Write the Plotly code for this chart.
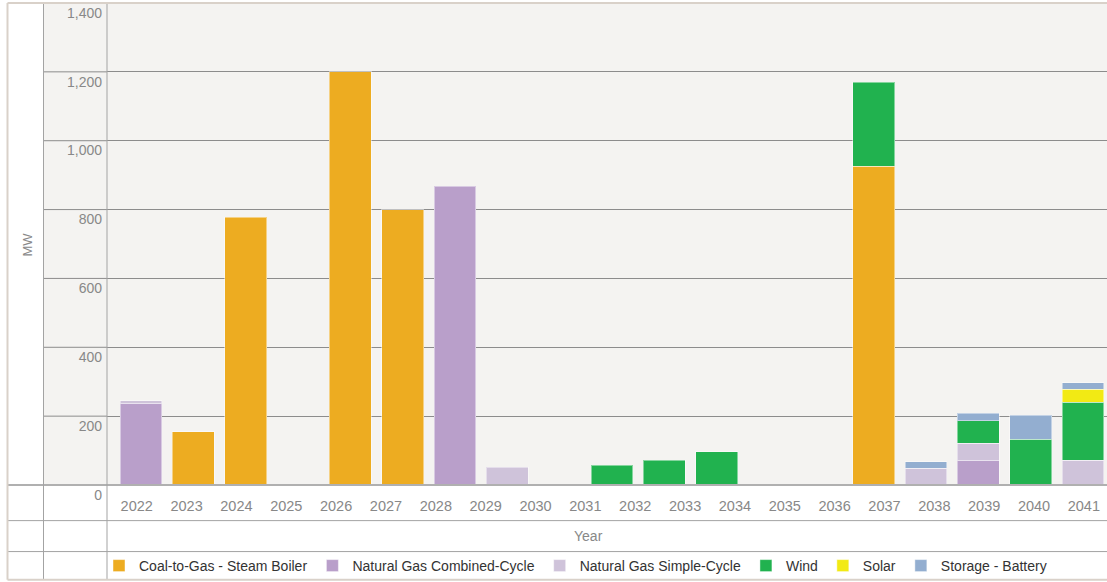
import plotly.graph_objects as go

# Axis labels along the year row
years = list(range(2022, 2042))

# Years that carry a bar column
bar_years = [2022, 2023, 2024, 2025, 2026, 2027, 2028, 2029, 2030,
             2032, 2033, 2034, 2035, 2036, 2037, 2038, 2039, 2040, 2041]

# Capacity additions, MW
coal_to_gas = [0, 154, 778, 0, 1200, 800, 0, 0, 0, 0, 0, 0, 0, 0, 926, 0, 0, 0, 0]
ng_combined = [237, 0, 0, 0, 0, 0, 868, 0, 0, 0, 0, 0, 0, 0, 0, 0, 72, 0, 0]
ng_simple = [7, 0, 0, 0, 0, 0, 0, 52, 0, 0, 0, 0, 0, 0, 0, 48, 50, 0, 72]
wind = [0, 0, 0, 0, 0, 0, 0, 0, 0, 58, 72, 96, 0, 0, 244, 0, 64, 133, 168]
solar = [0, 0, 0, 0, 0, 0, 0, 0, 0, 0, 0, 0, 0, 0, 0, 0, 0, 0, 38]
storage = [0, 0, 0, 0, 0, 0, 0, 0, 0, 0, 0, 0, 0, 0, 0, 19, 22, 70, 19]

y_ticks = [0, 200, 400, 600, 800, 1000, 1200, 1400]
Y_MAX = 1400

series = [
    ("Coal-to-Gas - Steam Boiler", coal_to_gas, "#EDAC21"),
    ("Natural Gas Combined-Cycle", ng_combined, "#B99FCA"),
    ("Natural Gas Simple-Cycle", ng_simple, "#CFC3DA"),
    ("Wind", wind, "#21B24F"),
    ("Solar", solar, "#F2EA14"),
    ("Storage - Battery", storage, "#93AED0"),
]

FONT = "Arial, Liberation Sans, Helvetica, sans-serif"
GRID = "#8C8C8C"
RULE = "#A3A3A3"
FRAME = "#D9D1C9"
BG = "#F4F3F1"

fig = go.Figure()
for name, vals, color in series:
    fig.add_trace(go.Bar(
        x=[str(y) for y in bar_years],
        y=[v if v else None for v in vals],
        name=name,
        marker=dict(color=color, line=dict(color="rgba(255,255,255,0.45)", width=1)),
        xaxis="x", yaxis="y",
    ))

# carrier for the year label axis
fig.add_trace(go.Scatter(
    x=years, y=[0] * len(years), mode="markers",
    marker=dict(opacity=0), showlegend=False, hoverinfo="skip",
    xaxis="x2", yaxis="y",
))

# table-like frame around the plot
XL_COL = -0.0635   # left edge of the tick-label column
XL_OUT = -0.0995   # outer frame edge
Y_ROW1 = -0.0739
Y_ROW2 = -0.1381
Y_BOT = -0.1967

shapes = [
    dict(type="rect", xref="paper", yref="paper", x0=XL_COL, x1=0, y0=0, y1=1,
         fillcolor=BG, line=dict(width=0), layer="below"),
]
for v in y_ticks[1:-1]:
    shapes.append(dict(type="line", xref="paper", yref="paper", x0=XL_COL, x1=0,
                       y0=v / Y_MAX, y1=v / Y_MAX, line=dict(color=GRID, width=1)))
shapes += [
    dict(type="line", xref="paper", yref="paper", x0=XL_OUT, x1=1, y0=0, y1=0,
         line=dict(color="#B0B0B0", width=2)),
    dict(type="line", xref="paper", yref="paper", x0=XL_OUT, x1=1, y0=Y_ROW1, y1=Y_ROW1,
         line=dict(color=RULE, width=1)),
    dict(type="line", xref="paper", yref="paper", x0=XL_OUT, x1=1, y0=Y_ROW2, y1=Y_ROW2,
         line=dict(color=RULE, width=1)),
    dict(type="line", xref="paper", yref="paper", x0=XL_COL, x1=XL_COL, y0=Y_BOT, y1=1,
         line=dict(color=RULE, width=1)),
    dict(type="line", xref="paper", yref="paper", x0=0, x1=0, y0=Y_BOT, y1=1,
         line=dict(color=RULE, width=1)),
    dict(type="line", xref="paper", yref="paper", x0=XL_OUT, x1=XL_OUT, y0=Y_BOT, y1=1,
         line=dict(color=FRAME, width=2)),
    dict(type="line", xref="paper", yref="paper", x0=XL_OUT, x1=1, y0=1, y1=1,
         line=dict(color=FRAME, width=2)),
    dict(type="line", xref="paper", yref="paper", x0=XL_OUT, x1=1, y0=Y_BOT, y1=Y_BOT,
         line=dict(color=FRAME, width=2)),
]

fig.update_layout(
    width=1107, height=582,
    margin=dict(l=107, r=0, t=3, b=96),
    paper_bgcolor="white", plot_bgcolor=BG,
    barmode="stack", bargap=0.2,
    font=dict(family=FONT, size=14, color="#888888"),
    xaxis=dict(type="category", categoryarray=[str(y) for y in bar_years],
               range=[-0.65, 18.46], showticklabels=False, showgrid=False,
               zeroline=False, showline=False, ticks=""),
    xaxis2=dict(overlaying="x", anchor="y", side="bottom", type="linear",
                range=[2021.404, 2041.464], tickvals=years,
                ticktext=[str(y) for y in years], showgrid=False, zeroline=False,
                showline=False, ticks="", ticklabelstandoff=10,
                tickfont=dict(size=14.5, color="#888888")),
    yaxis=dict(range=[0, Y_MAX], tickvals=y_ticks, tickformat=",",
               showgrid=True, gridcolor=GRID, gridwidth=1, zeroline=False,
               showline=False, ticks="", ticklabelposition="outside bottom",
               ticklabelstandoff=4,
               tickfont=dict(size=14, color="#888888")),
    legend=dict(orientation="h", x=-0.008, xanchor="left", y=-0.1677, yanchor="middle",
                font=dict(size=14, color="#333333"), bgcolor="rgba(0,0,0,0)",
                traceorder="normal"),
    shapes=shapes,
    annotations=[
        dict(text="MW", xref="paper", yref="paper", x=-0.080, y=0.499,
             xanchor="center", yanchor="middle",
             textangle=-90, showarrow=False, font=dict(size=13, color="#888888")),
        dict(text="Year", xref="paper", yref="paper", x=0.481, y=-0.1056,
             xanchor="center", yanchor="middle",
             showarrow=False, font=dict(size=14, color="#888888")),
    ],
    showlegend=True,
    hovermode=False,
)

fig.write_html("out.html")
